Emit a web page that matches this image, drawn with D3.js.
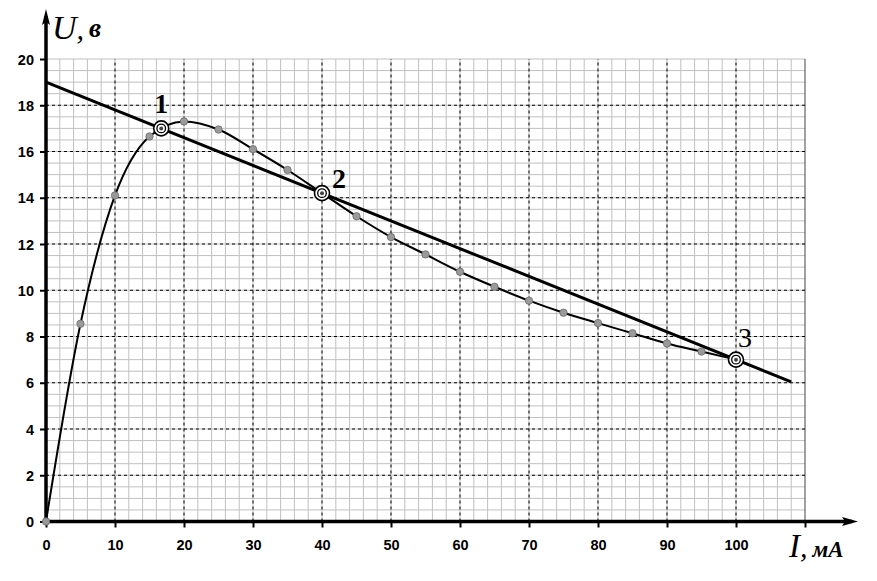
<!DOCTYPE html>
<html>
<head>
<meta charset="utf-8">
<script src="https://cdn.jsdelivr.net/npm/d3@7"></script>
<style>
  html, body { margin: 0; padding: 0; background: #fff; }
  svg { display: block; }
</style>
</head>
<body>
<svg id="chart" width="877" height="581"></svg>
<script>
// ---- data ----
const currentMA = [0, 5, 10, 15, 20, 25, 30, 35, 40, 45, 50, 55, 60, 65, 70, 75, 80, 85, 90, 95, 100];
const voltageV  = [0, 8.55, 14.1, 16.65, 17.3, 16.95, 16.1, 15.2, 14.2, 13.2, 12.3, 11.55, 10.8, 10.15, 9.55, 9.03, 8.58, 8.14, 7.7, 7.35, 7.0];
const loadLineI = [0, 108];
const loadLineU = [19, 6.04];
const crossI = [16.7, 40, 100];
const crossU = [17.0, 14.2, 7.0];
const crossLabels = ["1", "2", "3"];
const xTickValues = [0, 10, 20, 30, 40, 50, 60, 70, 80, 90, 100];
const yTickValues = [0, 2, 4, 6, 8, 10, 12, 14, 16, 18, 20];

// ---- layout ----
const svg = d3.select("#chart");
const x = d3.scaleLinear().domain([0, 110]).range([46, 805]);
const y = d3.scaleLinear().domain([0, 20]).range([521.5, 59]);

// minor grid
const g = svg.append("g");
g.selectAll("line.vx").data(d3.range(2, 110, 2)).enter().append("line")
  .attr("x1", d => x(d)).attr("x2", d => x(d)).attr("y1", y(0)).attr("y2", y(20))
  .attr("stroke", "#c0c0c0").attr("stroke-width", 1);
g.selectAll("line.hy").data(d3.range(0.5, 20.01, 0.5)).enter().append("line")
  .attr("x1", x(0)).attr("x2", x(110)).attr("y1", d => y(d)).attr("y2", d => y(d))
  .attr("stroke", "#c0c0c0").attr("stroke-width", 1);
// right border
g.append("line").attr("x1", x(110)).attr("x2", x(110)).attr("y1", y(0)).attr("y2", y(20))
  .attr("stroke", "#444").attr("stroke-width", 1);
// major dashed grid
g.selectAll("line.mx").data(d3.range(10, 110, 10)).enter().append("line")
  .attr("x1", d => x(d)).attr("x2", d => x(d)).attr("y1", y(0)).attr("y2", y(20))
  .attr("stroke", "#000").attr("stroke-width", 1).attr("stroke-dasharray", "3,3");
g.selectAll("line.my").data(d3.range(2, 20, 2)).enter().append("line")
  .attr("x1", x(0)).attr("x2", x(110)).attr("y1", d => y(d)).attr("y2", d => y(d))
  .attr("stroke", "#000").attr("stroke-width", 1).attr("stroke-dasharray", "3,3");

// axes with d3 axis generators (ticks + labels)
const xAxis = d3.axisBottom(x).tickValues(xTickValues.concat([110]))
  .tickFormat(d => xTickValues.includes(d) ? d : "").tickSize(6).tickPadding(12);
const yAxis = d3.axisLeft(y).tickValues(yTickValues).tickSize(6).tickPadding(6);
const gx = svg.append("g").attr("transform", `translate(0,${y(0)})`).call(xAxis);
const gy = svg.append("g").attr("transform", `translate(${x(0)},0)`).call(yAxis);
[gx, gy].forEach(a => {
  a.select(".domain").remove();
  a.selectAll(".tick line").attr("stroke", "#000").attr("stroke-width", 2);
  a.selectAll(".tick text").attr("fill", "#000")
    .style("font-family", "'Liberation Sans', Arial, sans-serif")
    .style("font-weight", "bold").style("font-size", "14.5px");
});
gy.selectAll(".tick text").attr("dy", "0.36em");

// axis lines with arrows
svg.append("line").attr("x1", x(0) - 3).attr("x2", 852).attr("y1", y(0)).attr("y2", y(0))
  .attr("stroke", "#000").attr("stroke-width", 3.5);
svg.append("path").attr("d", `M858,${y(0)} L842,${y(0) - 4.5} L845,${y(0)} L842,${y(0) + 4.5} Z`)
  .attr("fill", "#000");
svg.append("line").attr("x1", x(0)).attr("x2", x(0)).attr("y1", y(0) + 3).attr("y2", 16)
  .attr("stroke", "#000").attr("stroke-width", 3.5);
svg.append("path").attr("d", `M${x(0)},9 L${x(0) - 4},25 L${x(0)},22 L${x(0) + 4},25 Z`)
  .attr("fill", "#000");

// load line
svg.append("path")
  .attr("d", d3.line().x(d => x(d[0])).y(d => y(d[1]))(loadLineI.map((v, i) => [v, loadLineU[i]])))
  .attr("stroke", "#000").attr("stroke-width", 3).attr("fill", "none");

// characteristic curve
const pts = currentMA.map((v, i) => [v, voltageV[i]]);
svg.append("path")
  .attr("d", d3.line().x(d => x(d[0])).y(d => y(d[1])).curve(d3.curveMonotoneX)(pts))
  .attr("stroke", "#000").attr("stroke-width", 2).attr("fill", "none");
svg.selectAll("circle.pt").data(pts).enter().append("circle")
  .attr("cx", d => x(d[0])).attr("cy", d => y(d[1])).attr("r", 3.7)
  .attr("fill", "#9a9a9a").attr("stroke", "#6a6a6a").attr("stroke-width", 0.8);

// intersection markers
const labelOffsets = [[0, -15], [10, -5], [2, -13]];
crossI.forEach((ci, i) => {
  const cx = x(ci), cy = y(crossU[i]);
  svg.append("circle").attr("cx", cx).attr("cy", cy).attr("r", 7.5)
    .attr("fill", "#fff").attr("stroke", "#000").attr("stroke-width", 1.6);
  svg.append("circle").attr("cx", cx).attr("cy", cy).attr("r", 4.3)
    .attr("fill", "#fff").attr("stroke", "#000").attr("stroke-width", 1.3);
  svg.append("circle").attr("cx", cx).attr("cy", cy).attr("r", 2)
    .attr("fill", "#444");
  svg.append("text").attr("x", cx + labelOffsets[i][0]).attr("y", cy + labelOffsets[i][1])
    .attr("text-anchor", i === 0 ? "middle" : "start")
    .style("font-family", "'Liberation Serif', 'Times New Roman', serif")
    .style("font-weight", i === 2 ? "normal" : "bold").style("font-size", "28px")
    .text(crossLabels[i]);
});

// axis titles
const ty = svg.append("text").attr("x", 52).attr("y", 39)
  .style("font-family", "'Liberation Serif', 'Times New Roman', serif").style("font-style", "italic");
ty.append("tspan").style("font-size", "34px").text("U");
ty.append("tspan").style("font-size", "30px").text(",");
ty.append("tspan").attr("dx", 5).attr("dy", -2).style("font-size", "27px").style("font-weight", "bold").text("в");

const tx = svg.append("text").attr("x", 789).attr("y", 557)
  .style("font-family", "'Liberation Serif', 'Times New Roman', serif").style("font-style", "italic");
tx.append("tspan").style("font-size", "33px").text("I");
tx.append("tspan").style("font-size", "30px").text(",");
tx.append("tspan").attr("dx", 5).style("font-size", "23px").style("font-weight", "bold").text("мА");
</script>
</body>
</html>
